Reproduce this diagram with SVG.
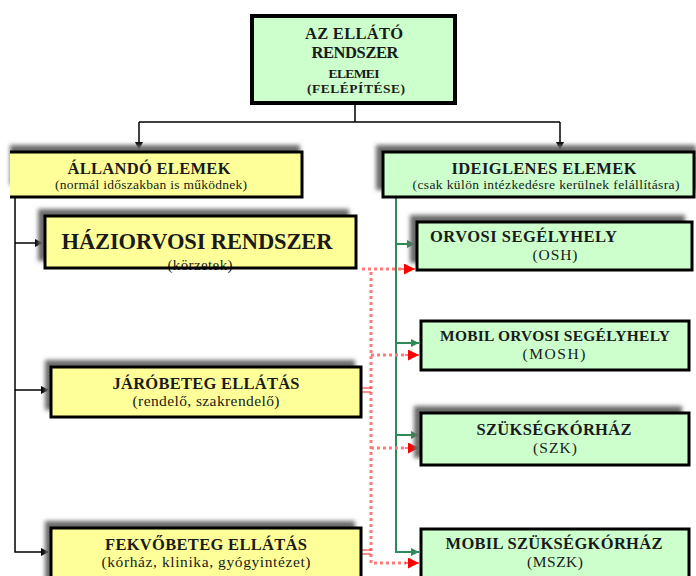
<svg xmlns="http://www.w3.org/2000/svg" width="696" height="576" viewBox="0 0 696 576">
<style>
text{font-family:"Liberation Serif","Times New Roman",serif;fill:#1a1a1a;text-anchor:middle}
.b{font-weight:bold}
.y{fill:#ffff99}
.g{fill:#ccffcc}
.bd{fill:none;stroke:#000;stroke-width:3}
.sh{fill:#6a6a6a;filter:url(#blur)}
.blk{fill:none;stroke:#000;stroke-width:1.5}
.grn{fill:none;stroke:#2e8b57;stroke-width:2}
.red{fill:none;stroke:#ff7a7a;stroke-width:3;stroke-dasharray:3 3}
.rs{fill:none;stroke:#ff2020;stroke-width:1.2}
.ra{stroke:#ff0000;stroke-width:1;fill:none}
</style>
<defs>
<filter id="blur" x="-10%" y="-30%" width="120%" height="160%"><feGaussianBlur stdDeviation="2"/></filter>
<marker id="ab" viewBox="0 0 10 10" refX="10" refY="5" markerWidth="8" markerHeight="8" markerUnits="userSpaceOnUse" orient="auto"><path d="M0,0L10,5L0,10z" fill="#000"/></marker>
<marker id="ag" viewBox="0 0 10 10" refX="10" refY="5" markerWidth="8" markerHeight="8" markerUnits="userSpaceOnUse" orient="auto"><path d="M0,0L10,5L0,10z" fill="#2e8b57"/></marker>
<marker id="ar" viewBox="0 0 10 10" refX="10" refY="5" markerWidth="12" markerHeight="11" markerUnits="userSpaceOnUse" orient="auto"><path d="M0,0L10,5L0,10z" fill="#ff0000"/></marker>
</defs>

<g id="connectors">
<path class="blk" d="M355,103V122M139,122H560"/>
<path class="blk" d="M139,122V150" marker-end="url(#ab)"/>
<path class="blk" d="M560,122V150" marker-end="url(#ab)"/>
<path class="blk" d="M15,197V552H49" marker-end="url(#ab)"/>
<path class="blk" d="M15,243H43" marker-end="url(#ab)"/>
<path class="blk" d="M15,390H49" marker-end="url(#ab)"/>
<path class="grn" d="M396,197V552H419" marker-end="url(#ag)"/>
<path class="grn" d="M396,244H415" marker-end="url(#ag)"/>
<path class="grn" d="M396,343H419" marker-end="url(#ag)"/>
<path class="grn" d="M396,435H419" marker-end="url(#ag)"/>
<path class="red" d="M371,272V563H406"/>
<path class="red" d="M362,269H402"/>
<path class="red" d="M371,355H406"/>
<path class="red" d="M371,448H406"/>
<path class="ra" d="M401,269H415" marker-end="url(#ar)"/>
<path class="ra" d="M405,355H419" marker-end="url(#ar)"/>
<path class="ra" d="M405,448H419" marker-end="url(#ar)"/>
<path class="ra" d="M405,563H419" marker-end="url(#ar)"/>
<path class="rs" d="M359,388H371M359,392H371M359,550H371M359,554H371"/>
</g>

<g id="n-top">
<rect x="252" y="16" width="203" height="87" class="g"/>
<rect x="252" y="16" width="203" height="87" fill="none" stroke="#000" stroke-width="4"/>
<text x="354" y="39" class="b" font-size="16.5" textLength="98">AZ ELLÁTÓ</text>
<text x="355" y="58" class="b" font-size="16.5" textLength="87">RENDSZER</text>
<text x="354" y="78" class="b" font-size="13.5" textLength="51">ELEMEI</text>
<text x="356" y="93" class="b" font-size="13.5" textLength="98">(FELÉPÍTÉSE)</text>
</g>

<g id="n-allando">
<rect x="10" y="145" width="290" height="40" class="sh"/>
<rect x="10" y="152" width="292" height="45" class="y"/>
<path class="bd" d="M10,152H302V197H10"/>
<text x="149" y="174" class="b" font-size="16.5" textLength="163">ÁLLANDÓ ELEMEK</text>
<text x="151" y="189" font-size="13.5" textLength="192">(normál időszakban is működnek)</text>
</g>

<g id="n-ideiglenes">
<rect x="376" y="145" width="320" height="45" class="sh"/>
<rect x="383" y="152" width="311" height="45" class="g"/>
<rect x="383" y="152" width="311" height="45" class="bd"/>
<text x="544" y="174" class="b" font-size="16.5" textLength="185">IDEIGLENES ELEMEK</text>
<text x="546" y="189" font-size="13.5" textLength="267">(csak külön intézkedésre kerülnek felállításra)</text>
</g>

<g id="n-haziorvosi">
<rect x="38" y="209" width="311" height="52" class="sh"/>
<rect x="45" y="216" width="311" height="52" class="y"/>
<text x="197" y="249" class="b" font-size="22.5" textLength="271">HÁZIORVOSI RENDSZER</text>
<text x="200" y="270" font-size="15" textLength="65">(körzetek)</text>
<rect x="45" y="216" width="311" height="52" class="bd"/>
</g>

<g id="n-jarobeteg">
<rect x="45" y="360" width="310" height="50" class="sh"/>
<rect x="51" y="367" width="310" height="50" class="y"/>
<rect x="51" y="367" width="310" height="50" class="bd"/>
<text x="206" y="389" class="b" font-size="16.5" textLength="187">JÁRÓBETEG ELLÁTÁS</text>
<text x="206" y="406" font-size="15.5" textLength="147">(rendelő, szakrendelő)</text>
</g>

<g id="n-fekvobeteg">
<rect x="45" y="521" width="310" height="60" class="sh"/>
<rect x="51" y="528" width="310" height="60" class="y"/>
<rect x="51" y="528" width="310" height="60" class="bd"/>
<text x="206" y="550" class="b" font-size="16.5" textLength="202">FEKVŐBETEG ELLÁTÁS</text>
<text x="206" y="567" font-size="15.5" textLength="209">(kórház, klinika, gyógyintézet)</text>
</g>

<g id="n-osh">
<rect x="410" y="215" width="275" height="48" class="sh"/>
<rect x="417" y="222" width="275" height="48" class="g"/>
<rect x="417" y="222" width="275" height="48" class="bd"/>
<text x="430" y="242" class="b" font-size="16.5" style="text-anchor:start" textLength="187">ORVOSI SEGÉLYHELY</text>
<text x="555" y="260" font-size="15.5" textLength="45">(OSH)</text>
</g>

<g id="n-mosh">
<rect x="421" y="321" width="268" height="49" class="g"/>
<rect x="421" y="321" width="268" height="49" class="bd"/>
<text x="555" y="341" class="b" font-size="15.5" textLength="230">MOBIL ORVOSI SEGÉLYHELY</text>
<text x="554" y="359" font-size="15.5" textLength="63">(MOSH)</text>
</g>

<g id="n-szk">
<rect x="414" y="406" width="268" height="52" class="sh"/>
<rect x="421" y="413" width="268" height="52" class="g"/>
<rect x="421" y="413" width="268" height="52" class="bd"/>
<text x="554" y="435" class="b" font-size="16.5" textLength="155">SZÜKSÉGKÓRHÁZ</text>
<text x="555" y="453" font-size="15.5" textLength="44">(SZK)</text>
</g>

<g id="n-mszk">
<rect x="421" y="529" width="268" height="60" class="g"/>
<rect x="421" y="529" width="268" height="60" class="bd"/>
<text x="554" y="549" class="b" font-size="16.5" textLength="217">MOBIL SZÜKSÉGKÓRHÁZ</text>
<text x="555" y="567" font-size="15.5" textLength="56">(MSZK)</text>
</g>
</svg>
